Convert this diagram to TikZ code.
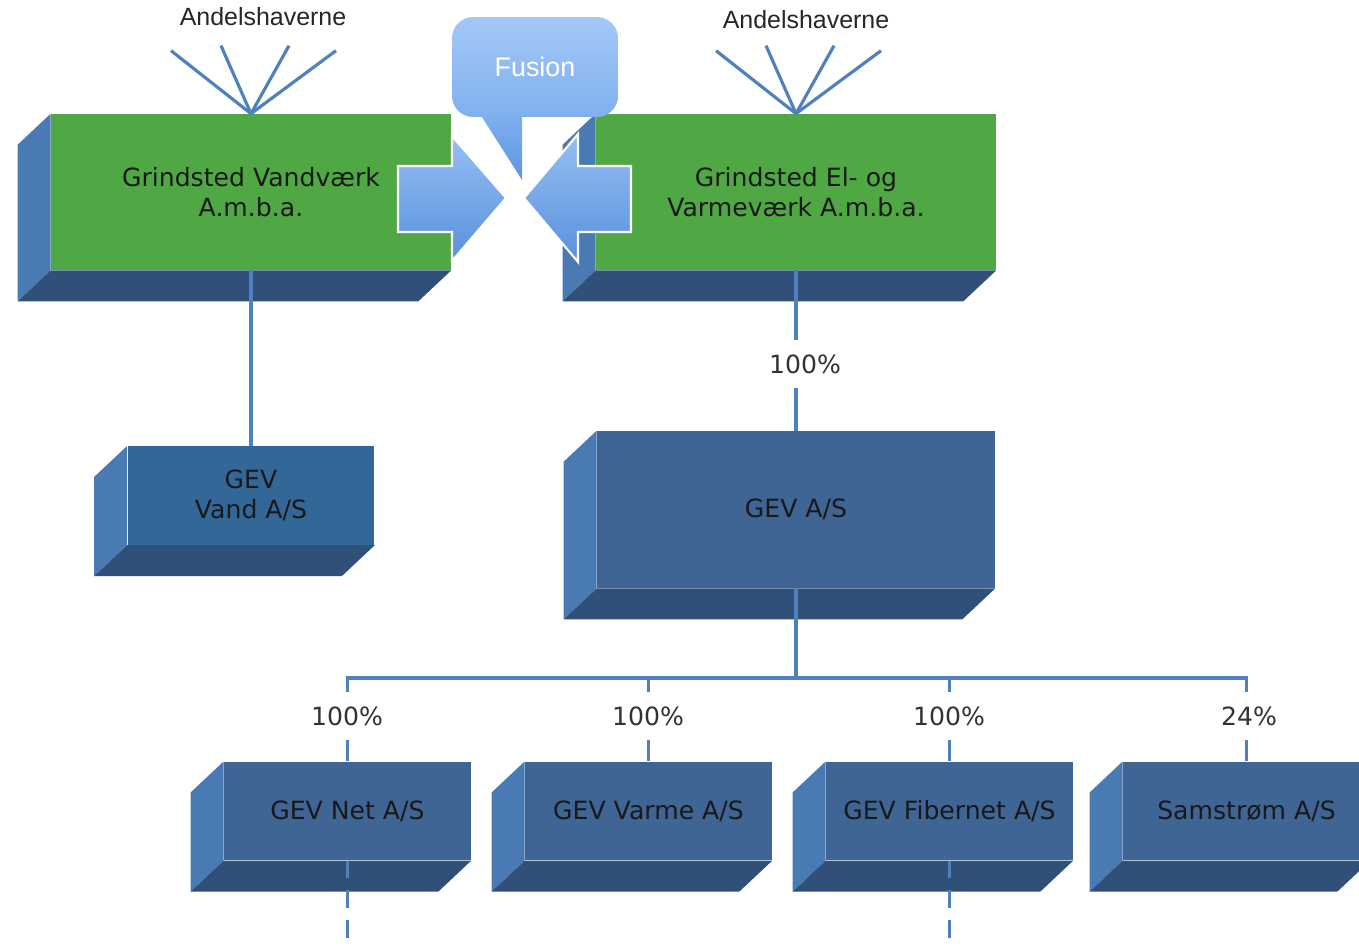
\documentclass[tikz,border=0pt]{standalone}
\usepackage{fontspec}
\setmainfont{DejaVu Sans}
\newfontfamily\arialfont{Liberation Sans}
\usetikzlibrary{arrows,positioning,calc}
\definecolor{boxgreen}{HTML}{4FA844}
\definecolor{frontblue}{HTML}{3F6594}
\definecolor{vandblue}{HTML}{336797}
\definecolor{sideblue}{HTML}{4A7AB3}
\definecolor{bottomblue}{HTML}{30507A}
\definecolor{linkblue}{HTML}{4F81BD}
\definecolor{callouttop}{HTML}{A3C8F7}
\definecolor{calloutbottom}{HTML}{7FB0EE}
\definecolor{tailbottom}{HTML}{5C96E0}
\definecolor{arrowtop}{HTML}{96BEF4}
\definecolor{arrowbottom}{HTML}{5891DC}
\tikzset{font=\fontsize{14.3}{17}\selectfont}
\tikzset{
  front/.style={inner sep=0pt, align=center, text=black!90},
  greenbox/.style={front, fill=boxgreen, minimum width=8cm, minimum height=3.12cm},
  bigbox/.style={front, fill=frontblue, minimum width=7.96cm, minimum height=3.14cm},
  smallbox/.style={front, fill=frontblue, minimum width=4.94cm, minimum height=1.97cm},
  link/.style={draw=linkblue, line width=2pt},
  pct/.style={fill=white, text=black!80, inner sep=1pt, minimum height=0.96cm},
  owners/.style={font=\arialfont\fontsize{14.2}{17}\selectfont, text=black!85},
  fusionarrow/.style={draw=white, line width=1.2pt, top color=arrowtop, bottom color=arrowbottom}
}
\newcommand\boxdepth[1]{%
  \fill[sideblue] (#1.north west) -- (#1.south west) -- ++(-33,31) -- ($(#1.north west)+(-33,31)$) -- cycle;
  \fill[bottomblue] (#1.south west) -- (#1.south east) -- ++(-33,31) -- ($(#1.south west)+(-33,31)$) -- cycle;}

\begin{document}
\begin{tikzpicture}[x=0.02cm,y=-0.02cm]
  \clip (0,0) rectangle (1359,946);
  \node[greenbox] (vand) at (251,192) {Grindsted Vandværk\\A.m.b.a.};
  \node[greenbox] (elvarme) at (796,192) {Grindsted El- og\\Varmeværk A.m.b.a.};
  \node[smallbox, fill=vandblue] (gevvand) at (251,495.5) {GEV\\Vand A/S};
  \node[bigbox] (gev) at (796,509.5) {GEV A/S};
  \node[smallbox] (net) at (347.5,811) {GEV Net A/S};
  \node[smallbox] (varme) at (648.5,811) {GEV Varme A/S};
  \node[smallbox] (fiber) at (949.5,811) {GEV Fibernet A/S};
  \node[smallbox] (sam) at (1246.5,811) {Samstrøm A/S};
  \foreach \b in {vand,elvarme,gevvand,gev,net,varme,fiber,sam}
    \boxdepth{\b};

  \node[owners] (ownvand) at (263,17) {Andelshaverne};
  \node[owners] (ownel) at (806,20) {Andelshaverne};
  \foreach \a in {vand,elvarme}
    \foreach \dx/\dy in {-80/-63,-30/-68,38/-68,85/-63}
      \draw[link, line width=1.8pt] (\a.north) -- ++(\dx,\dy);

  \coordinate (bus) at (796,678);
  \draw[link] (vand.south) -- (gevvand.north);
  \draw[link] (elvarme.south) -- (gev.north);
  \node[pct] (pgev) at (805,364) {100\%};
  \draw[link, line width=2.4pt] (gev.south) -- (bus);
  \draw[link] (net.north) -- (net.north |- bus) -- (sam.north |- bus) -- (sam.north);
  \foreach \b in {varme,fiber}
    \draw[link] (\b.north) -- (\b.north |- bus);
  \node[pct] (pnet) at (347,716) {100\%};
  \node[pct] (pvarme) at (648,716) {100\%};
  \node[pct] (pfiber) at (949,716) {100\%};
  \node[pct] (psam) at (1249,716) {24\%};
  \foreach \b in {net,fiber}
    \draw[link, dash pattern=on 10pt off 7pt] (\b.south) -- ++(0,95);

  \shade[fusionarrow] (398,166) -- (452,166) -- (452,136) -- (506,198) -- (452,261) -- (452,232) -- (398,232) -- cycle;
  \shade[fusionarrow] (631,166) -- (578,166) -- (578,134) -- (524,198) -- (578,262) -- (578,232) -- (631,232) -- cycle;
  \shade[top color=calloutbottom, bottom color=tailbottom] (480,114) -- (522,114) -- (522,180) -- cycle;
  \node[rounded corners=12pt, top color=callouttop, bottom color=calloutbottom, minimum width=3.32cm, minimum height=2cm,
        text=white, font=\arialfont\fontsize{15.3}{17}\selectfont] (fusion) at (535,67) {Fusion};
\end{tikzpicture}
\end{document}
